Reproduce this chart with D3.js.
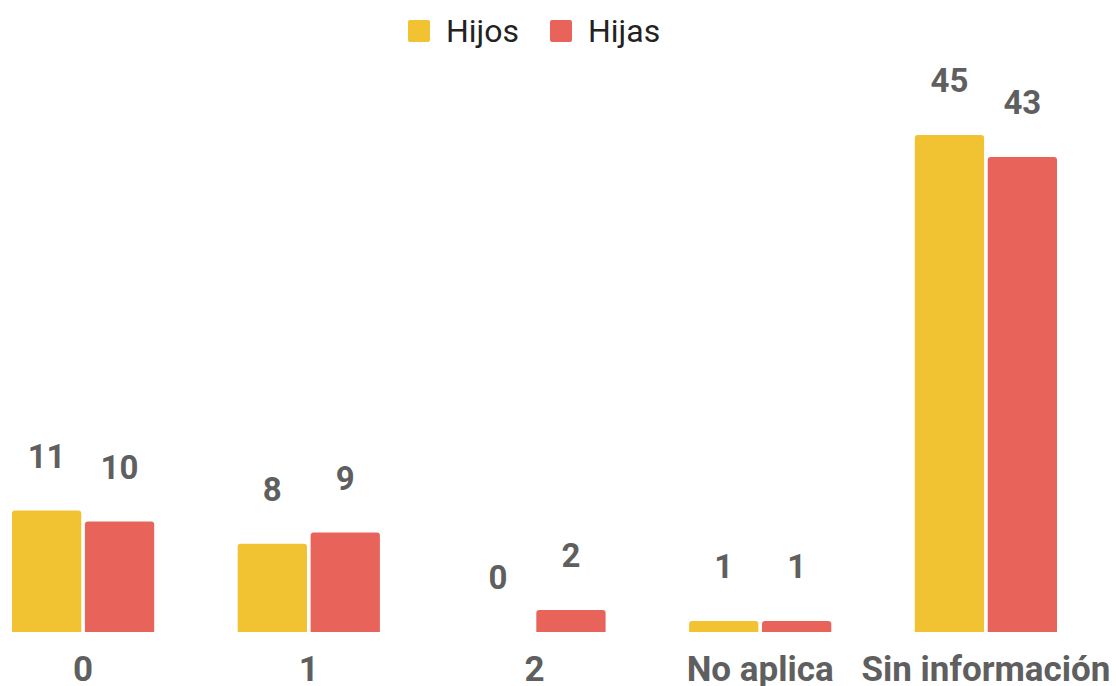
<!DOCTYPE html>
<html>
<head>
<meta charset="utf-8">
<script src="https://cdn.jsdelivr.net/npm/d3@7"></script>
<style>
  body { margin: 0; background: #fff; }
  svg { display: block; font-family: Roboto, "Noto Sans", sans-serif; }
</style>
</head>
<body>
<div id="chart"></div>
<script>
// chart data
var categories = ['0', '1', '2', 'No aplica', 'Sin información'];
var seriesNames = ['Hijos', 'Hijas'];
var hijos = [11, 8, 0, 1, 45];
var hijas = [10, 9, 2, 1, 43];
var colors = ['#f1c232', '#e8635a'];

var width = 1116, height = 686;
var baseY = 632;

var svg = d3.select('#chart').append('svg')
  .attr('width', width)
  .attr('height', height);

var x = d3.scaleBand().domain(categories).range([12, 1057])
  .paddingInner(0.37).paddingOuter(0);
var xSub = d3.scaleBand().domain(seriesNames).range([0, x.bandwidth()])
  .paddingInner(0.05);
var y = d3.scaleLinear().domain([0, 45]).range([baseY, 135]);
var color = d3.scaleOrdinal().domain(seriesNames).range(colors);

var rows = categories.map(function(c, i) {
  return [
    {cat: c, key: 'Hijos', value: hijos[i]},
    {cat: c, key: 'Hijas', value: hijas[i]}
  ];
});

// bar with rounded top corners
var barPath = function(x0, y0, w, h, r) {
  if (h <= 0) return '';
  r = Math.min(r, h, w / 2);
  return 'M' + x0 + ',' + (y0 + h) +
    'V' + (y0 + r) + 'Q' + x0 + ',' + y0 + ' ' + (x0 + r) + ',' + y0 +
    'H' + (x0 + w - r) + 'Q' + (x0 + w) + ',' + y0 + ' ' + (x0 + w) + ',' + (y0 + r) +
    'V' + (y0 + h) + 'Z';
};

var groups = svg.selectAll('g.group').data(rows).enter().append('g')
  .attr('class', 'group')
  .attr('transform', (d, i) => 'translate(' + x(categories[i]) + ',0)');

groups.selectAll('path.bar').data(d => d).enter().append('path')
  .attr('class', 'bar')
  .attr('fill', d => color(d.key))
  .attr('d', d => barPath(xSub(d.key), y(d.value), xSub.bandwidth(), baseY - y(d.value), 3));

groups.selectAll('text.val').data(d => d).enter().append('text')
  .attr('class', 'val')
  .attr('x', d => xSub(d.key) + xSub.bandwidth() / 2)
  .attr('y', d => y(d.value) - 43)
  .attr('text-anchor', 'middle')
  .attr('font-size', 33)
  .attr('font-weight', 'bold')
  .attr('fill', '#5f5f5f')
  .text(d => d.value);

// category axis (no line, just labels)
var xAxis = d3.axisBottom(x).tickSize(0).tickPadding(0);
var axisG = svg.append('g').attr('transform', 'translate(0,' + baseY + ')').call(xAxis);
axisG.select('.domain').remove();
axisG.selectAll('text')
  .attr('dy', null)
  .attr('y', 49)
  .attr('font-family', 'Roboto, sans-serif')
  .attr('font-size', 35)
  .attr('font-weight', 'bold')
  .attr('fill', '#5f5f5f');

// legend
var legendX = [408, 550];
var legend = svg.selectAll('g.legend').data(seriesNames).enter().append('g')
  .attr('class', 'legend')
  .attr('transform', (d, i) => 'translate(' + legendX[i] + ',20)');
legend.append('rect')
  .attr('width', 22).attr('height', 22).attr('rx', 2)
  .attr('fill', d => color(d));
legend.append('text')
  .attr('x', 38).attr('y', 22)
  .attr('font-size', 32)
  .attr('fill', '#222')
  .text(d => d);
</script>
</body>
</html>
